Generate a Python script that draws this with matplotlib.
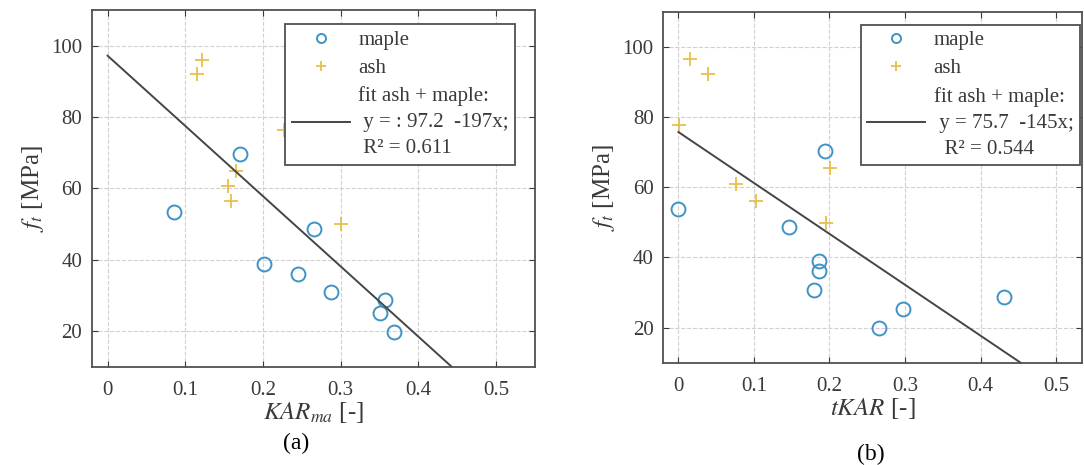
import numpy as np
import matplotlib
matplotlib.use("Agg")
import matplotlib.pyplot as plt

plt.rcParams['font.family'] = ['Liberation Serif', 'DejaVu Serif']
plt.rcParams['mathtext.fontset'] = 'stix'

# panel (a): KAR_ma
kar_maple = [0.085, 0.171, 0.201, 0.245, 0.266, 0.288, 0.357, 0.350, 0.368]
ft_maple_a = [53.4, 69.6, 38.9, 36.1, 48.6, 30.9, 28.7, 25.0, 19.8]
kar_ash = [0.122, 0.115, 0.227, 0.165, 0.155, 0.159, 0.300]
ft_ash_a = [96.0, 92.0, 76.5, 65.0, 60.6, 56.4, 49.9]
fit_a = (97.2, -197.0)
fit_a_label = "fit ash + maple:\n y = : 97.2  -197x;\n R² = 0.611"

# panel (b): tKAR
tkar_maple = [0.0, 0.194, 0.147, 0.186, 0.186, 0.179, 0.297, 0.265, 0.431]
ft_maple_b = [53.8, 70.2, 48.7, 39.0, 36.1, 30.8, 25.3, 19.8, 28.6]
tkar_ash = [0.016, 0.039, 0.001, 0.076, 0.103, 0.201, 0.195]
ft_ash_b = [96.5, 92.3, 77.6, 61.0, 56.2, 65.5, 49.8]
fit_b = (75.7, -145.0)
fit_b_label = "fit ash + maple:\n y = 75.7  -145x;\n  R² = 0.544"

xticks = [0, 0.1, 0.2, 0.3, 0.4, 0.5]
xtick_labels = ['0', '0.1', '0.2', '0.3', '0.4', '0.5']
yticks = [20, 40, 60, 80, 100]

maple_col = '#3f93c4'
ash_col = '#e6c04a'
line_col = '#454545'
text_col = '#3a3a3a'

fig = plt.figure(figsize=(10.84, 4.65), dpi=100)
ax1 = fig.add_axes([0.0849, 0.2114, 0.4087, 0.767])
ax2 = fig.add_axes([0.6119, 0.22, 0.386, 0.755])


def draw(ax, xm, ym, xa, ya, fit, label, xlabel, xmax, anchor):
    ax.plot(xm, ym, 'o', mfc='none', mec=maple_col, ms=10, mew=1.4, label='maple')
    ax.plot(xa, ya, '+', color=ash_col, ms=10, mew=1.3, label='ash')
    xf = np.array([0, 0.5])
    ax.plot(xf, fit[0] + fit[1] * xf, '-', color=line_col, lw=1.4, label=label)
    ax.set_xlim(-0.02, xmax)
    ax.set_ylim(10, 110)
    ax.set_xticks(xticks)
    ax.set_xticklabels(xtick_labels)
    ax.set_yticks(yticks)
    ax.tick_params(direction='in', top=True, right=True, labelsize=15,
                   colors=text_col, length=4)
    ax.tick_params(axis='x', pad=10)
    ax.tick_params(axis='y', pad=7)
    ax.grid(True, linestyle='--', color='#d0d0d0', lw=0.8)
    for s in ax.spines.values():
        s.set_color('#505050')
        s.set_linewidth(1.3)
    ax.set_ylabel(r'$f_t$ [MPa]', fontsize=18, color=text_col, labelpad=4)
    ax.set_xlabel(xlabel, fontsize=18, color=text_col, labelpad=0)
    leg = ax.legend(loc='upper right', fontsize=15, frameon=True, fancybox=False,
                    edgecolor='#505050', framealpha=1, handlelength=2.8,
                    handletextpad=0.4, borderpad=0.3, labelspacing=0.4,
                    markerscale=0.65, bbox_to_anchor=anchor, borderaxespad=0)
    leg.get_frame().set_linewidth(1.3)
    for t in leg.get_texts():
        t.set_color(text_col)
        t.set_linespacing(1.5)


draw(ax1, kar_maple, ft_maple_a, kar_ash, ft_ash_a, fit_a, fit_a_label,
     r'$KAR_{ma}$ [-]', 0.55, (0.955, 0.96))
draw(ax2, tkar_maple, ft_maple_b, tkar_ash, ft_ash_b, fit_b, fit_b_label,
     r'$tKAR$ [-]', 0.534, (0.995, 0.963))

fig.text(0.273, 0.047, '(a)', ha='center', va='center', fontsize=17)
fig.text(0.8035, 0.022, '(b)', ha='center', va='center', fontsize=17)

fig.savefig('out.png', dpi=100)
